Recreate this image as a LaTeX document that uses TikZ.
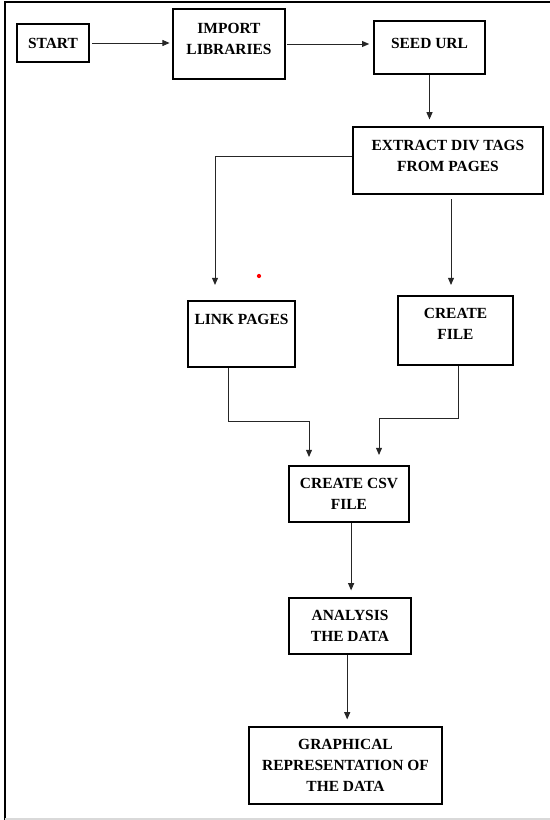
\documentclass[tikz,border=0pt]{standalone}
\usepackage{fontspec}
\setmainfont{Liberation Serif}
\usetikzlibrary{positioning,arrows.meta}
\tikzset{
  flowarrow/.style={-{Triangle[length=1.8mm, width=1.5mm]}, line width=0.7pt, draw=black!85},
  stepbox/.style={draw, line width=0.8pt, inner sep=0pt, align=center, font=\bfseries\fontsize{11}{15}\selectfont},
  liftup/.style={text depth=#1}
}

\begin{document}
\begin{tikzpicture}[x=0.025cm, y=-0.025cm]
  \useasboundingbox (0,0) rectangle (550,820);
  % frame of the page
  \draw[line width=1.6pt] (5,820) -- (5,2) -- (550,2);
  \draw[black!15, line width=1pt] (5,819) -- (550,819);

  \node[stepbox, minimum width=1.8cm, minimum height=0.95cm] (start) at (53,43) {START};
  \node[stepbox, liftup=7pt, minimum width=2.8cm, minimum height=1.75cm] (import) at (229,44) {IMPORT\\ LIBRARIES};
  \node[stepbox, liftup=6.4pt, minimum width=2.775cm, minimum height=1.325cm] (seed) at (429.5,47.5) {SEED URL};
  \node[stepbox, liftup=7pt, minimum width=4.75cm, minimum height=1.675cm] (extract) at (448,160.5) {EXTRACT DIV TAGS\\ FROM PAGES};
  \node[stepbox, liftup=21pt, minimum width=2.675cm, minimum height=1.65cm] (link) at (241.5,334) {LINK PAGES};
  \node[stepbox, liftup=9.2pt, minimum width=2.875cm, minimum height=1.725cm] (file) at (455.5,330.5) {CREATE\\ FILE};
  \node[stepbox, minimum width=3.0cm, minimum height=1.4cm] (csv) at (349,494) {CREATE CSV\\ FILE};
  \node[stepbox, minimum width=3.05cm, minimum height=1.4cm] (analysis) at (350,626) {ANALYSIS\\ THE DATA};
  \node[stepbox, minimum width=4.825cm, minimum height=1.925cm] (graph) at (345.5,765.5) {GRAPHICAL\\ REPRESENTATION OF\\ THE DATA};

  % free ends and bends
  \coordinate (linkin) at (215,285);
  \coordinate (filein) at (451,285);
  \coordinate (lbend) at (228,421);
  \coordinate (csvl) at (309,457);
  \coordinate (rbend) at (458,418);
  \coordinate (csvr) at (379,455);

  \draw[flowarrow, shorten <=2pt, shorten >=2pt] (start.east) -- (start.east -| import.west);
  \draw[flowarrow, shorten <=1pt, shorten >=3pt] (import.east) -- (import.east -| seed.west);
  \draw[flowarrow, shorten >=5pt] (seed.south) -- (seed.south |- extract.north);
  \draw[flowarrow] ([yshift=2.5pt]extract.west) -| (linkin);
  \draw[flowarrow, shorten <=3.5pt] (extract.south -| filein) -- (filein);
  \draw[flowarrow] (link.south -| lbend) -- (lbend) -| (csvl);
  \draw[flowarrow] (file.south -| rbend) -- (rbend) -| (csvr);
  \draw[flowarrow, shorten >=5pt] ([xshift=1.5pt]csv.south) -- ([xshift=1.5pt]csv.south |- analysis.north);
  \draw[flowarrow, shorten >=5pt] ([xshift=-2pt]analysis.south) -- ([xshift=-2pt]analysis.south |- graph.north);

  % stray red dot
  \fill[red] (259,276) circle[radius=1.5pt];
\end{tikzpicture}
\end{document}
